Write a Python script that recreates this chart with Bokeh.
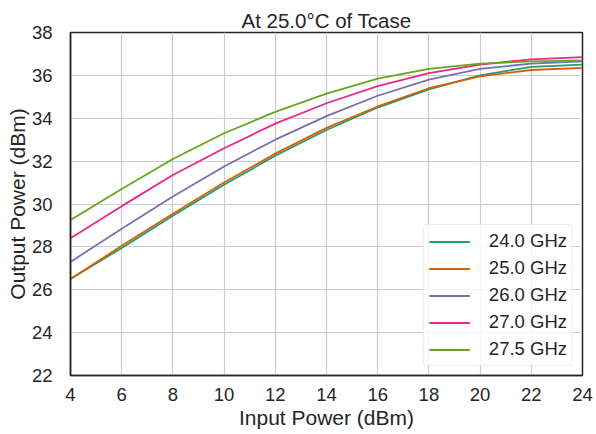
from bokeh.plotting import figure
from bokeh.embed import file_html
from bokeh.resources import INLINE
from bokeh.models import Legend, LegendItem, FixedTicker, Range1d

input_power = [4, 6, 8, 10, 12, 14, 16, 18, 20, 22, 24]
labels = ["24.0 GHz", "25.0 GHz", "26.0 GHz", "27.0 GHz", "27.5 GHz"]
p24_0 = [26.5, 27.95, 29.45, 30.9, 32.25, 33.45, 34.5, 35.35, 36.0, 36.4, 36.5]
p25_0 = [26.5, 28.05, 29.55, 31.0, 32.35, 33.55, 34.55, 35.4, 35.95, 36.25, 36.35]
p26_0 = [27.3, 28.85, 30.35, 31.75, 33.0, 34.1, 35.05, 35.8, 36.3, 36.55, 36.65]
p27_0 = [28.4, 29.9, 31.35, 32.6, 33.75, 34.7, 35.5, 36.1, 36.5, 36.75, 36.85]
p27_5 = [29.25, 30.7, 32.1, 33.3, 34.3, 35.15, 35.85, 36.3, 36.55, 36.65, 36.7]
series = [p24_0, p25_0, p26_0, p27_0, p27_5]
colors = ["#1b9e77", "#d95f02", "#7570b3", "#e7298a", "#66a61e"]
x_ticks = [4, 6, 8, 10, 12, 14, 16, 18, 20, 22, 24]
y_ticks = [22, 24, 26, 28, 30, 32, 34, 36, 38]

FONT = "Liberation Sans"
TXT = "#262626"

p = figure(width=596, height=434, output_backend="svg", toolbar_location=None,
           x_range=Range1d(4, 24), y_range=Range1d(22, 38),
           title="At 25.0°C of Tcase",
           min_border_left=70, min_border_right=14, min_border_top=32, min_border_bottom=59)

p.title.align = "center"
p.title.text_font = FONT
p.title.text_font_size = "20.5px"
p.title.text_font_style = "normal"
p.title.text_color = TXT
p.title.standoff = 2

items = []
for ys, c, lab in zip(series, colors, labels):
    r = p.line(input_power, ys, line_color=c, line_width=1.8)
    items.append(LegendItem(label=lab, renderers=[r]))

legend = Legend(items=items, location="bottom_right")
legend.label_text_font = FONT
legend.label_text_font_size = "18.5px"
legend.label_text_color = TXT
legend.glyph_width = 41
legend.glyph_height = 21
legend.label_height = 21
legend.spacing = 5
legend.padding = 5
legend.margin = 9
legend.label_standoff = 19
legend.border_line_color = "#d9d9d9"
legend.border_line_width = 1
legend.background_fill_alpha = 0.8
legend.border_radius = 4
p.add_layout(legend)

p.xaxis.ticker = FixedTicker(ticks=x_ticks)
p.yaxis.ticker = FixedTicker(ticks=y_ticks)
for ax in (p.xaxis[0], p.yaxis[0]):
    ax.major_tick_line_color = None
    ax.minor_tick_line_color = None
    ax.axis_line_color = "#262626"
    ax.axis_line_width = 1.5
    ax.major_label_text_font = FONT
    ax.major_label_text_font_size = "18.5px"
    ax.major_label_text_color = TXT
    ax.axis_label_text_font = FONT
    ax.axis_label_text_font_size = "21px"
    ax.axis_label_text_font_style = "normal"
    ax.axis_label_text_color = TXT
p.xaxis.major_label_standoff = 6
p.yaxis.major_label_standoff = 12
p.xaxis.axis_label = "Input Power (dBm)"
p.yaxis.axis_label = "Output Power (dBm)"
p.xaxis.axis_label_standoff = 2
p.yaxis.axis_label_standoff = 0

p.outline_line_color = "#262626"
p.outline_line_width = 1.5
p.xgrid.grid_line_color = "#cccccc"
p.ygrid.grid_line_color = "#cccccc"
p.xgrid.grid_line_width = 1.2
p.ygrid.grid_line_width = 1.2
p.background_fill_color = "white"
p.border_fill_color = "white"

open("out.html", "w").write(file_html(p, INLINE))
